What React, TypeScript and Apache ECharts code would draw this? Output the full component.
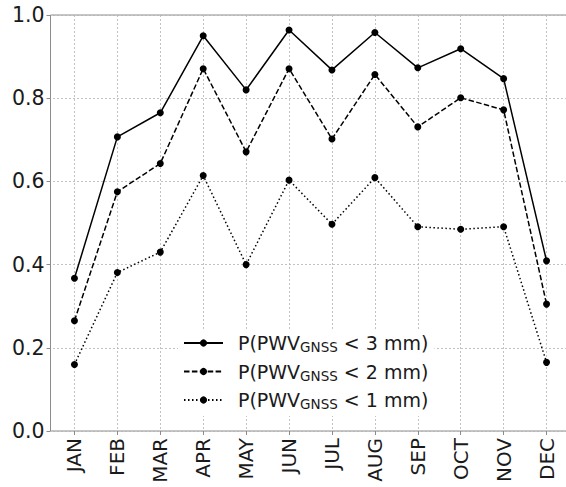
import React, { useEffect, useRef } from "react";
import * as echarts from "echarts";

const months = ["JAN", "FEB", "MAR", "APR", "MAY", "JUN", "JUL", "AUG", "SEP", "OCT", "NOV", "DEC"];
const thresholds = [3, 2, 1];
const p3 = [0.367, 0.707, 0.765, 0.95, 0.82, 0.964, 0.868, 0.958, 0.873, 0.919, 0.847, 0.409];
const p2 = [0.265, 0.575, 0.643, 0.871, 0.671, 0.871, 0.702, 0.857, 0.731, 0.801, 0.772, 0.305];
const p1 = [0.16, 0.381, 0.43, 0.614, 0.4, 0.603, 0.497, 0.609, 0.491, 0.485, 0.491, 0.165];
const yMin = 0;
const yMax = 1;
const yStep = 0.2;

const FONT = "DejaVu Sans";
const TEXT = "#1a1a1a";
const SPINE = "#8c8c8c";
const GRIDC = "#b4b4b4";

const seriesValues = [p3, p2, p1];
const lineTypes: any[] = ["solid", [5.5, 2.4], [1.5, 2.5]];

export default function App() {
  const ref = useRef<HTMLDivElement>(null);
  useEffect(() => {
    if (!ref.current) return;
    const chart = echarts.init(ref.current, null, { renderer: "svg" });
    const names = thresholds.map((t) => `P(PWV_GNSS < ${t} mm)`);
    chart.setOption({
      animation: false,
      backgroundColor: "#ffffff",
      grid: [
        { left: 53, top: 15, width: 515, height: 416, show: false },
        { left: 50.5, top: 15, width: 560, height: 416, show: true, borderColor: SPINE, borderWidth: 1, backgroundColor: "transparent" },
      ],
      legend: {
        data: names,
        orient: "vertical",
        left: 178,
        top: 329,
        padding: [3, 6, 5, 5],
        backgroundColor: "#ffffff",
        borderWidth: 0,
        itemWidth: 39,
        itemHeight: 9,
        itemGap: 6.5,
        formatter: (name: string) => {
          const i = names.indexOf(name);
          return `{a|P(PWV}{s|GNSS}{a| < ${thresholds[i]} mm)}`;
        },
        textStyle: {
          fontFamily: FONT,
          color: TEXT,
          padding: [0, 0, 0, 10],
          rich: {
            a: { fontFamily: FONT, fontSize: 19, color: TEXT, lineHeight: 20 },
            s: { fontFamily: FONT, fontSize: 13.5, color: TEXT, lineHeight: 13, padding: [8, 0, 0, 0] },
          },
        },
      },
      xAxis: {
        type: "category",
        gridIndex: 0,
        data: months,
        boundaryGap: true,
        axisLine: { show: false },
        axisTick: { show: true, alignWithLabel: true, length: 4, lineStyle: { color: SPINE } },
        axisLabel: { rotate: 90, margin: 7, fontFamily: FONT, fontSize: 20, color: TEXT, interval: 0 },
        splitLine: { show: true, alignWithLabel: true, lineStyle: { color: GRIDC, type: [2, 2], width: 0.8 } } as any,
      },
      yAxis: {
        type: "value",
        gridIndex: 0,
        min: yMin,
        max: yMax,
        interval: yStep,
        offset: 2.5,
        axisLine: { show: false },
        axisTick: { show: true, length: 4, lineStyle: { color: SPINE } },
        axisLabel: { margin: 6, fontFamily: FONT, fontSize: 20.5, color: TEXT, formatter: (v: number) => v.toFixed(1) },
        splitLine: { show: true, lineStyle: { color: GRIDC, type: [2, 2], width: 0.8 } },
      },
      series: seriesValues.map((vals, i) => ({
        name: names[i],
        type: "line",
        data: vals,
        symbol: "circle",
        symbolSize: 7,
        showAllSymbol: true,
        itemStyle: { color: "#000000" },
        lineStyle: { color: "#000000", width: 1.5, type: lineTypes[i] },
      })),
    });
    return () => chart.dispose();
  }, []);
  return (
    <div style={{ position: "absolute", left: 0, top: 0, width: 566, height: 487, overflow: "hidden", background: "#fff" }}>
      <div ref={ref} style={{ width: 600, height: 487 }} />
    </div>
  );
}
